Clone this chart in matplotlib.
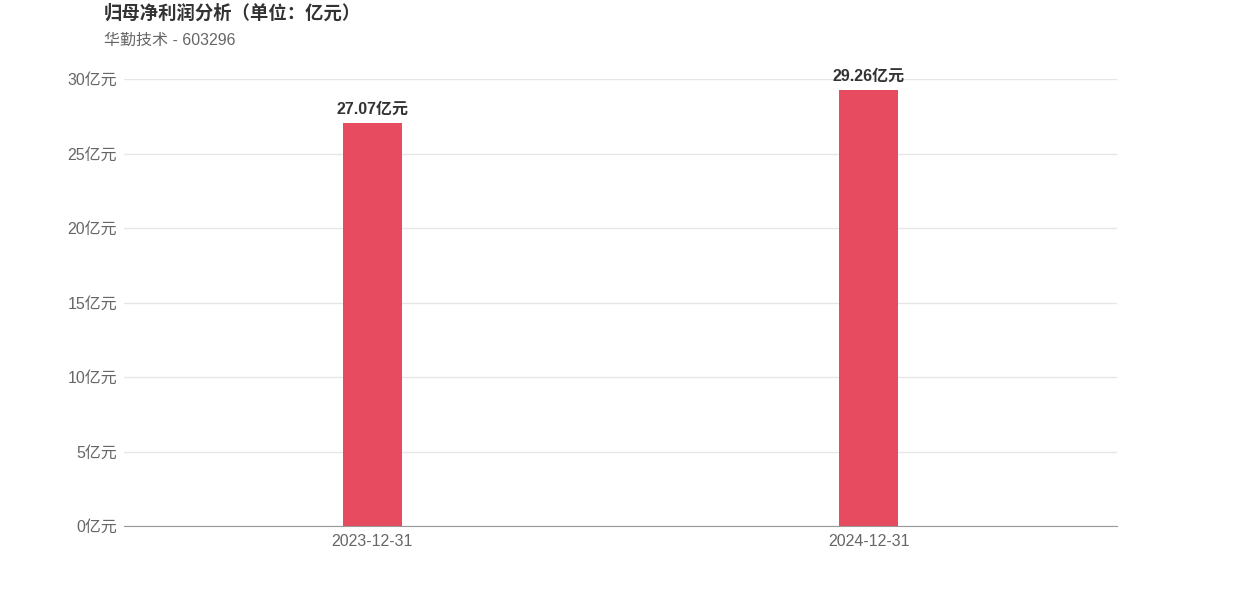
import matplotlib.pyplot as plt

plt.rcParams['font.family'] = ['Liberation Sans', 'Noto Sans CJK SC', 'DejaVu Sans']

# 数据
dates = ["2023-12-31", "2024-12-31"]
profit = [27.07, 29.26]
yticks = [0, 5, 10, 15, 20, 25, 30]

fig = plt.figure(figsize=(12.42, 5.96), dpi=100)
ax = fig.add_axes([124 / 1242, 70 / 596, 993 / 1242, 447 / 596])

x = list(range(len(dates)))
ax.bar(x, profit, width=0.119, color="#e64b5f", zorder=3)
for xi, v in zip(x, profit):
    ax.text(xi, v + 0.4, f"{v:.2f}亿元", ha="center", va="bottom",
            fontsize=11.5, fontweight="bold", color="#333333")

ax.set_xlim(-0.5, 1.5)
ax.set_ylim(0, 30)
ax.set_xticks(x)
ax.set_xticklabels(dates, fontsize=11.5, color="#666666")
ax.set_yticks(yticks)
ax.set_yticklabels([f"{t}亿元" for t in yticks], fontsize=11.5, color="#666666")
ax.tick_params(axis="x", length=0, pad=6)
ax.tick_params(axis="y", length=0, pad=5)
ax.grid(axis="y", color="#e6e6e6", linewidth=1, zorder=0)
for s in ["top", "right", "left"]:
    ax.spines[s].set_visible(False)
ax.spines["bottom"].set_color("#999999")
ax.spines["bottom"].set_zorder(4)

fig.text(104 / 1242, 1 - 14 / 596, "归母净利润分析（单位：亿元）", fontsize=13.2,
         fontweight="bold", color="#333333", va="center", ha="left")
fig.text(104 / 1242, 1 - 40 / 596, "华勤技术 - 603296", fontsize=11.5,
         color="#666666", va="center", ha="left")

fig.savefig("out.png", dpi=100)
